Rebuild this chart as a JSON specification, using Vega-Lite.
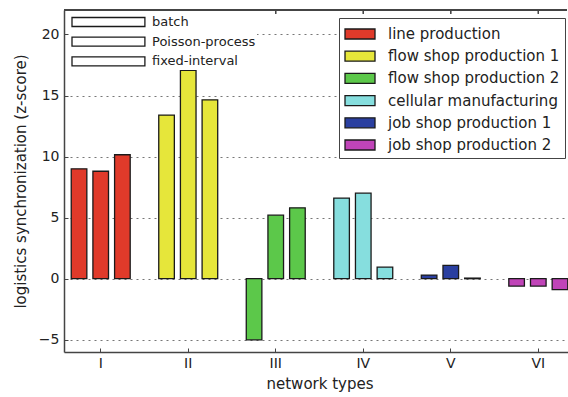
{
  "$schema": "https://vega.github.io/schema/vega-lite/v6.json",
  "width": 503,
  "height": 342,
  "autosize": {"type": "none"},
  "padding": {"left": 64, "top": 10, "right": 1, "bottom": 45},
  "config": {
    "font": "DejaVu Sans",
    "view": {"stroke": null},
    "axis": {"labelFont": "DejaVu Sans", "titleFont": "DejaVu Sans", "labelColor": "#222", "titleColor": "#222", "domainColor": "#444", "tickColor": "#444", "titleFontWeight": "normal"}
  },
  "data": {
    "values": [
      {"net": "I", "type": "line production", "process": "fixed-interval", "value": 9.0},
      {"net": "I", "type": "line production", "process": "Poisson-process", "value": 8.8},
      {"net": "I", "type": "line production", "process": "batch", "value": 10.15},
      {"net": "II", "type": "flow shop production 1", "process": "fixed-interval", "value": 13.4},
      {"net": "II", "type": "flow shop production 1", "process": "Poisson-process", "value": 17.05},
      {"net": "II", "type": "flow shop production 1", "process": "batch", "value": 14.65},
      {"net": "III", "type": "flow shop production 2", "process": "fixed-interval", "value": -5.0},
      {"net": "III", "type": "flow shop production 2", "process": "Poisson-process", "value": 5.2},
      {"net": "III", "type": "flow shop production 2", "process": "batch", "value": 5.8},
      {"net": "IV", "type": "cellular manufacturing", "process": "fixed-interval", "value": 6.6},
      {"net": "IV", "type": "cellular manufacturing", "process": "Poisson-process", "value": 7.0},
      {"net": "IV", "type": "cellular manufacturing", "process": "batch", "value": 0.95},
      {"net": "V", "type": "job shop production 1", "process": "fixed-interval", "value": 0.3},
      {"net": "V", "type": "job shop production 1", "process": "Poisson-process", "value": 1.1},
      {"net": "V", "type": "job shop production 1", "process": "batch", "value": 0.05},
      {"net": "VI", "type": "job shop production 2", "process": "fixed-interval", "value": -0.6},
      {"net": "VI", "type": "job shop production 2", "process": "Poisson-process", "value": -0.6},
      {"net": "VI", "type": "job shop production 2", "process": "batch", "value": -0.9}
    ]
  },
  "encoding": {
    "y": {
      "field": "value", "type": "quantitative",
      "scale": {"domain": [-6, 22], "nice": false, "zero": false},
      "axis": {"title": "logistics synchronization (z-score)", "titleFontSize": 15, "titlePadding": 10, "labelFontSize": 14, "values": [-5, 0, 5, 10, 15, 20], "tickSize": -4, "labelPadding": 9, "domainWidth": 1.5, "grid": true, "gridDash": [2, 4], "gridColor": "#777", "gridWidth": 1}
    }
  },
  "layer": [
    {
      "mark": {"type": "bar", "stroke": "#1a1a1a", "strokeWidth": 1.3},
      "encoding": {
        "x": {
          "field": "net", "type": "nominal", "sort": ["I", "II", "III", "IV", "V", "VI"],
          "scale": {"range": [0, 511], "paddingInner": 0.257, "paddingOuter": 0.048},
          "axis": {"orient": "bottom", "title": "network types", "titleFontSize": 15, "titlePadding": 6, "labelFontSize": 14, "labelAngle": 0, "tickSize": -4, "labelPadding": 8, "domainWidth": 1.5, "grid": false}
        },
        "xOffset": {
          "field": "process", "type": "nominal",
          "scale": {"domain": ["fixed-interval", "Poisson-process", "batch"], "paddingInner": 0.28, "paddingOuter": 0.14}
        },
        "color": {
          "field": "type", "type": "nominal",
          "scale": {
            "domain": ["line production", "flow shop production 1", "flow shop production 2", "cellular manufacturing", "job shop production 1", "job shop production 2"],
            "range": ["#e03a2a", "#e6e63a", "#5cc84a", "#86dede", "#2a3fa0", "#c044b8"]
          },
          "legend": {
            "title": null, "orient": "none", "legendX": 275, "legendY": 8,
            "symbolType": "M-1,-0.5H2V0.5H-1Z", "symbolSize": 400, "symbolStrokeColor": "#1a1a1a", "symbolStrokeWidth": 1.3, "symbolOpacity": 1,
            "labelFontSize": 15, "labelColor": "#222", "labelOffset": 22, "labelLimit": 300,
            "fillColor": "white", "strokeColor": "#444", "padding": 5, "rowPadding": 3.2
          }
        },
        "opacity": {
          "field": "process", "type": "nominal",
          "scale": {"type": "ordinal", "domain": ["batch", "Poisson-process", "fixed-interval"], "range": [1, 1, 1]},
          "legend": {
            "title": null, "orient": "none", "legendX": 6, "legendY": 1,
            "symbolType": "M-1,-0.5H7.1V0.5H-1Z", "symbolSize": 324, "symbolFillColor": "white", "symbolStrokeColor": "#1a1a1a", "symbolStrokeWidth": 1.3,
            "labelFontSize": 13, "labelColor": "#222", "labelOffset": 61, "padding": 1, "rowPadding": 1.7,
            "fillColor": "white"
          }
        }
      }
    },
    {
      "mark": {"type": "rule", "color": "#444", "strokeWidth": 1.5},
      "encoding": {"y": {"datum": 22}}
    },
    {
      "mark": {"type": "rule", "color": "#444", "strokeWidth": 1},
      "encoding": {
        "x": {
          "field": "net", "type": "nominal", "sort": ["I", "II", "III", "IV", "V", "VI"],
          "scale": {"range": [0, 511], "paddingInner": 0.257, "paddingOuter": 0.048}
        },
        "y": {"datum": 22},
        "y2": {"datum": 21.68}
      }
    }
  ]
}
